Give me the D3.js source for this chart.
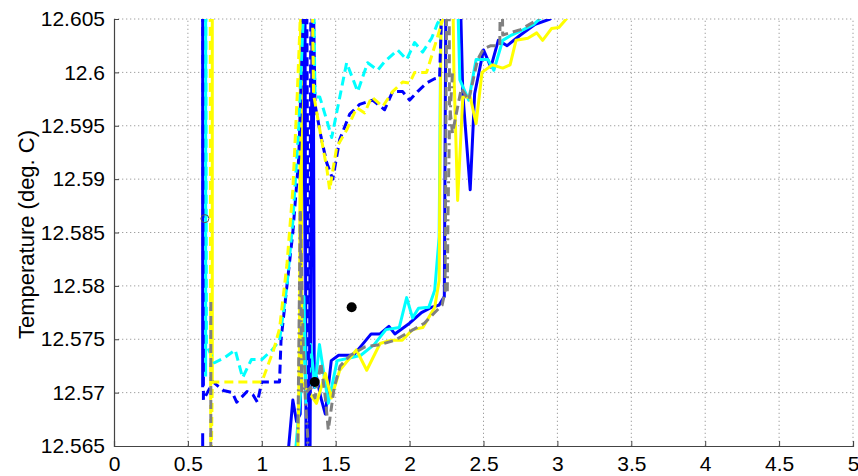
<!DOCTYPE html>
<html>
<head>
<meta charset="utf-8">
<script src="https://cdn.jsdelivr.net/npm/d3@7"></script>
<style>
  body { margin: 0; background: #fff; }
  svg { display: block; }
  text { font-family: "Liberation Sans", Arial, Helvetica, sans-serif; fill: #000; }
</style>
</head>
<body>
<div class="visHolder"></div>
<script>
// tick labels
var xTicks = [0, 0.5, 1, 1.5, 2, 2.5, 3, 3.5, 4, 4.5, 5];
var yTicks = [12.565, 12.57, 12.575, 12.58, 12.585, 12.59, 12.595, 12.6, 12.605];
var yLabel = 'Temperature (deg. C)';

// series, [time, temperature]; null = break in the line
var blueSolid = [[0.60, 12.62], [0.60, 12.5705], null, [0.60, 12.5662], [0.60, 12.56], null,
  [1.15, 12.56], [1.21, 12.5693], [1.235, 12.5673], [1.26, 12.568], [1.27, 12.58], [1.29, 12.62],
  [1.30, 12.56], [1.325, 12.56], [1.345, 12.62], [1.355, 12.5705], [1.37, 12.5715], [1.40, 12.5695],
  [1.43, 12.568], [1.47, 12.573], [1.52, 12.5735], [1.62, 12.5735], [1.68, 12.5745], [1.74, 12.5755],
  [1.80, 12.5755], [1.86, 12.5762], [1.90, 12.5755], [2.0, 12.5765], [2.08, 12.5775], [2.15, 12.578],
  [2.20, 12.5782], [2.235, 12.579], [2.25, 12.62], [2.32, 12.62], [2.36, 12.598], [2.41, 12.589],
  [2.44, 12.598], [2.50, 12.6021], [2.55, 12.6005], [2.60, 12.603], [2.66, 12.6025], [2.75, 12.6035],
  [2.85, 12.6045], [2.95, 12.605], [3.0, 12.6058]];
var cyanSolid = [[0.62, 12.62], [0.62, 12.5715], null,
  [1.20, 12.56], [1.25, 12.568], [1.27, 12.571], [1.285, 12.579], [1.30, 12.569], [1.32, 12.5705],
  [1.33, 12.5745], [1.36, 12.5705], [1.39, 12.5745], [1.45, 12.569], [1.51, 12.573], [1.58, 12.5732],
  [1.67, 12.5735], [1.76, 12.5745], [1.84, 12.5759], [1.93, 12.5761], [1.98, 12.5789], [2.02, 12.577],
  [2.06, 12.5779], [2.13, 12.578], [2.17, 12.5796], [2.20, 12.5846], [2.22, 12.62], [2.30, 12.62],
  [2.34, 12.5993], [2.40, 12.5974], [2.45, 12.6012], [2.53, 12.6012], [2.57, 12.6002], [2.63, 12.603],
  [2.69, 12.6035], [2.77, 12.604], [2.84, 12.6045], [2.88, 12.605], [2.95, 12.606]];
var yellowSolid = [[0.665, 12.62], [0.665, 12.571], null,
  [1.24, 12.56], [1.255, 12.575], [1.265, 12.62], [1.27, 12.571], [1.37, 12.569], [1.43, 12.5718],
  [1.47, 12.5695], [1.527, 12.5721], [1.64, 12.574], [1.71, 12.5721], [1.80, 12.5746], [1.87, 12.5749],
  [1.95, 12.5749], [2.02, 12.5759], [2.09, 12.5761], [2.17, 12.578], [2.20, 12.5805], [2.22, 12.62],
  [2.28, 12.62], [2.30, 12.6], [2.325, 12.588], [2.36, 12.5977], [2.41, 12.5977], [2.45, 12.5952],
  [2.49, 12.6], [2.56, 12.6007], [2.63, 12.6004], [2.68, 12.6007], [2.72, 12.603], [2.80, 12.6032],
  [2.86, 12.6037], [2.90, 12.603], [2.96, 12.6041], [3.01, 12.6042], [3.06, 12.605], [3.1, 12.606]];
var blueDashed = [[0.60, 12.62], [0.605, 12.5693], [0.67, 12.571], [0.74, 12.5702], [0.80, 12.57],
  [0.83, 12.5691], [0.90, 12.5701], [0.94, 12.5698], [0.97, 12.5691], [1.0, 12.571], [1.12, 12.571],
  [1.13, 12.5749], [1.17, 12.58], [1.21, 12.585], [1.25, 12.592], [1.28, 12.605], [1.30, 12.62],
  [1.32, 12.56], [1.335, 12.62], [1.36, 12.597], [1.40, 12.594], [1.44, 12.5915], [1.48, 12.59],
  [1.527, 12.5937], [1.595, 12.5961], [1.662, 12.597], [1.75, 12.5974], [1.831, 12.5965],
  [1.885, 12.5982], [1.953, 12.5982], [2.0, 12.5974], [2.054, 12.5982], [2.115, 12.599],
  [2.169, 12.5994], [2.203, 12.5995], [2.215, 12.605], [2.22, 12.62]];
var cyanDashed = [[0.62, 12.62], [0.625, 12.5745], [0.68, 12.5728], [0.75, 12.5733], [0.82, 12.574],
  [0.87, 12.5714], [0.93, 12.5731], [1.0, 12.5731], [1.07, 12.574], [1.12, 12.5749], [1.17, 12.58],
  [1.21, 12.586], [1.25, 12.595], [1.28, 12.605], [1.30, 12.62], [1.34, 12.62], [1.36, 12.5977],
  [1.392, 12.5977], [1.44, 12.5955], [1.473, 12.5939], [1.574, 12.6009], [1.649, 12.5982],
  [1.716, 12.6009], [1.784, 12.6002], [1.831, 12.601], [1.919, 12.6021], [1.98, 12.6012],
  [2.034, 12.6028], [2.088, 12.6019], [2.149, 12.6032], [2.189, 12.6046], [2.216, 12.6051], [2.23, 12.62]];
var yellowDashed = [[0.65, 12.62], [0.655, 12.56], [0.665, 12.571], [1.0, 12.571], [1.08, 12.574],
  [1.12, 12.576], [1.17, 12.582], [1.21, 12.589], [1.24, 12.598], [1.26, 12.605], [1.27, 12.62],
  [1.33, 12.62], [1.35, 12.598], [1.40, 12.594], [1.44, 12.591], [1.459, 12.589], [1.507, 12.593],
  [1.574, 12.5946], [1.642, 12.5967], [1.696, 12.5962], [1.743, 12.5977], [1.818, 12.5968],
  [1.885, 12.5982], [1.953, 12.5991], [2.0, 12.599], [2.034, 12.6], [2.115, 12.6], [2.182, 12.603],
  [2.223, 12.6049], [2.23, 12.62]];
var grayDashed = [[0.655, 12.5785], [0.655, 12.56], null,
  [1.26, 12.587], [1.28, 12.5745], [1.30, 12.57], [1.33, 12.5705], [1.36, 12.5695], [1.40, 12.5728],
  [1.43, 12.5695], [1.45, 12.5665], [1.49, 12.5705], [1.53, 12.5725], [1.60, 12.5735], [1.70, 12.5743],
  [1.80, 12.5745], [1.90, 12.5749], [2.0, 12.5757], [2.10, 12.5765], [2.17, 12.5775], [2.22, 12.5782],
  [2.24, 12.5795], [2.255, 12.62], [2.265, 12.62], [2.27, 12.597], [2.29, 12.5943], [2.35, 12.5985],
  [2.40, 12.5974], [2.46, 12.6012], [2.50, 12.6022], [2.55, 12.6025], [2.61, 12.6025], [2.62, 12.615],
  [2.63, 12.6035], [2.75, 12.604], [2.85, 12.6048], [2.95, 12.606]];
var grayDashDot = [[1.24, 12.56], [1.26, 12.5868], [1.27, 12.57], [1.29, 12.5705], [1.31, 12.566],
  [1.32, 12.56], null, [2.255, 12.5795], [2.26, 12.5868], [2.27, 12.595], [2.29, 12.6]];
var dots = [[1.358, 12.571], [1.608, 12.578]];
var openDots = [[0.615, 12.5863]];

var width = 858,
  height = 476,
  margin = { left: 114, right: 5, top: 19, bottom: 30 };

var svg = d3.select('.visHolder')
  .append('svg')
  .attr('width', width)
  .attr('height', height);

var x = d3.scaleLinear().domain([0, 5]).range([margin.left, width - margin.right]);
var y = d3.scaleLinear().domain([12.565, 12.605]).range([height - margin.bottom, margin.top]);

// dotted grid
svg.append('g')
  .selectAll('line')
  .data(xTicks.slice(1))
  .enter()
  .append('line')
  .attr('x1', d => x(d)).attr('x2', d => x(d))
  .attr('y1', y(12.565)).attr('y2', y(12.605))
  .attr('stroke', '#a0a0a0')
  .attr('stroke-dasharray', '1.3,2.7');
svg.append('g')
  .selectAll('line')
  .data(yTicks.slice(1))
  .enter()
  .append('line')
  .attr('y1', d => y(d)).attr('y2', d => y(d))
  .attr('x1', x(0)).attr('x2', x(5))
  .attr('stroke', '#a0a0a0')
  .attr('stroke-dasharray', '1.3,2.7');

// axes, ticks pointing inwards
var xAxis = d3.axisBottom(x).tickValues(xTicks).tickSize(-5).tickPadding(10).tickFormat(d3.format('~g'));
var yAxis = d3.axisLeft(y).tickValues(yTicks).tickSize(-5).tickPadding(9).tickFormat(d3.format('~g'));

var gx = svg.append('g')
  .attr('transform', 'translate(0,' + y(12.565) + ')')
  .call(xAxis);
var gy = svg.append('g')
  .attr('transform', 'translate(' + x(0) + ',0)')
  .call(yAxis);
[gx, gy].forEach(function (g) {
  g.select('.domain').attr('stroke', '#444').attr('stroke-width', 1.2);
  g.selectAll('.tick line').attr('stroke', '#444');
  g.selectAll('.tick text').style('font-size', '21px').attr('fill', '#000');
});
gx.selectAll('.tick text').attr('dy', '0.72em');

svg.append('text')
  .attr('transform', 'translate(34,' + (y(12.585) + 2) + ') rotate(-90)')
  .attr('text-anchor', 'middle')
  .style('font-size', '22px')
  .text(yLabel);

svg.append('clipPath')
  .attr('id', 'plot')
  .append('rect')
  .attr('x', x(0)).attr('y', y(12.605))
  .attr('width', x(5) - x(0)).attr('height', y(12.565) - y(12.605));

var line = d3.line()
  .defined(d => d !== null)
  .x(d => x(d[0]))
  .y(d => y(d[1]));

var series = [
  { data: blueSolid, color: '#0000ff', dash: null },
  { data: cyanSolid, color: '#00ffff', dash: null },
  { data: yellowSolid, color: '#ffff00', dash: null },
  { data: blueDashed, color: '#0000ff', dash: '9,5' },
  { data: cyanDashed, color: '#00ffff', dash: '9,5' },
  { data: yellowDashed, color: '#ffff00', dash: '9,5' },
  { data: grayDashed, color: '#808080', dash: '9,5' },
  { data: grayDashDot, color: '#808080', dash: '9,4,2,4' }
];

var plot = svg.append('g').attr('clip-path', 'url(#plot)');

plot.selectAll('path')
  .data(series)
  .enter()
  .append('path')
  .attr('d', d => line(d.data))
  .attr('fill', 'none')
  .attr('stroke', d => d.color)
  .attr('stroke-width', 3)
  .attr('stroke-linejoin', 'round')
  .attr('stroke-dasharray', d => d.dash);

plot.selectAll('circle.dot')
  .data(dots)
  .enter()
  .append('circle')
  .attr('class', 'dot')
  .attr('cx', d => x(d[0]))
  .attr('cy', d => y(d[1]))
  .attr('r', 5)
  .attr('fill', '#000');

plot.selectAll('circle.open')
  .data(openDots)
  .enter()
  .append('circle')
  .attr('class', 'open')
  .attr('cx', d => x(d[0]))
  .attr('cy', d => y(d[1]))
  .attr('r', 4)
  .attr('fill', 'none')
  .attr('stroke', '#555')
  .attr('stroke-width', 1);
</script>
</body>
</html>
